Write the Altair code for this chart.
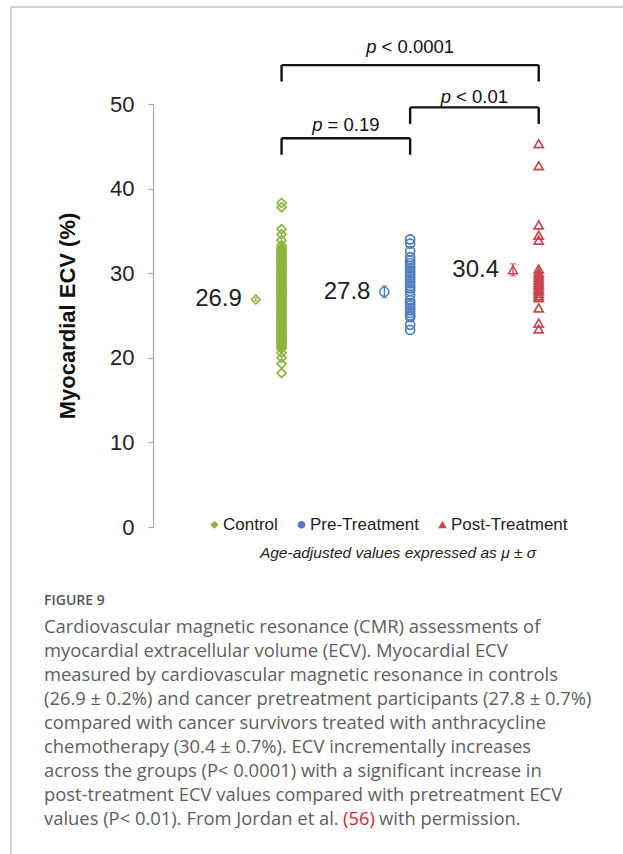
import altair as alt
import pandas as pd

# ---- groups and measured ECV values (%) ----
groups = ["Control", "Pre-Treatment", "Post-Treatment"]
group_pos = [1, 2, 3]
group_colors = ["#8db43e", "#4d7cc0", "#c8464c"]
group_shapes = ["diamond", "circle", "triangle-up"]

control_ecv = [
    38.3, 37.8, 35.2, 34.6, 33.9, 33.3, 33.0, 32.8, 32.7, 32.5,
    32.4, 32.2, 32.1, 31.9, 31.8, 31.6, 31.5, 31.4, 31.2, 31.1,
    30.9, 30.8, 30.6, 30.5, 30.4, 30.2, 30.1, 29.9, 29.8, 29.7,
    29.5, 29.4, 29.2, 29.1, 29.0, 28.8, 28.7, 28.5, 28.4, 28.2,
    28.1, 28.0, 27.8, 27.7, 27.5, 27.4, 27.3, 27.1, 27.0, 26.8,
    26.7, 26.5, 26.4, 26.3, 26.1, 26.0, 25.8, 25.7, 25.5, 25.4,
    25.3, 25.1, 25.0, 24.8, 24.7, 24.5, 24.4, 24.3, 24.1, 24.0,
    23.8, 23.7, 23.5, 23.4, 23.3, 23.1, 23.0, 22.8, 22.7, 22.5,
    22.4, 22.2, 22.1, 22.0, 21.8, 21.7, 21.5, 21.4, 21.2, 21.1,
    20.6, 20.0, 19.3, 18.2,
]
pre_ecv = [
    34.0, 33.5, 32.6, 31.9, 31.5, 31.2, 30.9, 30.6, 30.3, 30.0,
    29.7, 29.4, 29.1, 28.8, 28.5, 28.2, 27.9, 27.4, 26.8, 26.5,
    26.2, 25.9, 25.6, 25.3, 25.0, 24.8, 23.9, 23.3,
]
post_ecv = [
    45.3, 42.7, 35.7, 34.5, 33.9, 30.5, 30.1, 29.8, 29.5, 29.2,
    28.9, 28.7, 28.4, 28.1, 27.9, 27.6, 27.3, 27.1, 25.9, 24.1,
    23.4,
]

# age-adjusted mean and sd per group
group_means = [26.9, 27.8, 30.4]
group_sd = [0.2, 0.7, 0.7]
mean_labels = ["26.9", "27.8", "30.4"]

# significance brackets (levels in ECV units)
bracket_from = [1, 2, 1]
bracket_to = [3, 3, 2]
bracket_level = [54.6, 49.6, 45.95]
bracket_label_level = [56.05, 50.15, 46.75]
bracket_relation = ["< 0.0001", "< 0.01", "= 0.19"]

y_ticks = [0, 10, 20, 30, 40, 50]

caption_head = "FIGURE 9"
caption_lines = [
    "Cardiovascular magnetic resonance (CMR) assessments of",
    "myocardial extracellular volume (ECV). Myocardial ECV",
    "measured by cardiovascular magnetic resonance in controls",
    "(26.9 \u00b1 0.2%) and cancer pretreatment participants (27.8 \u00b1 0.7%)",
    "compared with cancer survivors treated with anthracycline",
    "chemotherapy (30.4 \u00b1 0.7%). ECV incrementally increases",
    "across the groups (P< 0.0001) with a significant increase in",
    "post-treatment ECV values compared with pretreatment ECV",
]
caption_last = ["values (P< 0.01). From Jordan et al.", "(56)", "with permission."]
note_text = "Age-adjusted values expressed as \u03bc \u00b1 \u03c3"

# ---- layout ----
W, H = 450, 423
X_DOMAIN = [0, 3.5]
PX_PER_X = W / (X_DOMAIN[1] - X_DOMAIN[0])
MEAN_SHIFT = 0.2
LEFT, TOP = 153, 104
SANS = "Liberation Sans"
CAP_FONT = "Open Sans"
CAP_SIZE = 18.4
CAP_COLOR = "#5e5e5e"
LINE_H = 24

xs = alt.Scale(domain=X_DOMAIN, nice=False, zero=False)
ys = alt.Scale(domain=[0, 50], nice=False, zero=False)
color_scale = alt.Scale(domain=groups, range=group_colors)
shape_scale = alt.Scale(domain=groups, range=group_shapes)

rows = []
for g, p, vals in zip(groups, group_pos, [control_ecv, pre_ecv, post_ecv]):
    for v in vals:
        rows.append({"group": g, "pos": p, "ecv": v})
points = pd.DataFrame(rows)

means = pd.DataFrame({
    "group": groups,
    "mx": [p - MEAN_SHIFT for p in group_pos],
    "mean": group_means,
    "lo": [m - s for m, s in zip(group_means, group_sd)],
    "hi": [m + s for m, s in zip(group_means, group_sd)],
    "label": mean_labels,
})

legend = alt.Legend(
    title=None, orient="none", direction="horizontal", legendX=53, legendY=412,
    labelFont=SANS, labelFontSize=17, labelColor="#222222", labelOffset=0,
    symbolSize=40, symbolStrokeWidth=1.3, symbolFillColor="white",
    columnPadding=15, padding=0,
)

y_axis = alt.Axis(
    values=y_ticks, title="Myocardial ECV (%)", grid=False,
    labelFont=SANS, labelFontSize=22, labelColor="#222222", labelPadding=14,
    tickSize=5, tickColor="#a8a8a8", domainColor="#a8a8a8", domainWidth=1.2,
    tickWidth=1.2, titleFont=SANS, titleFontSize=22, titleFontWeight="bold",
    titleColor="#111111", titlePadding=30,
)

pts = alt.Chart(points).mark_point(filled=False, size=82, strokeWidth=1.7, opacity=1).encode(
    x=alt.X("pos:Q", scale=xs, axis=None),
    y=alt.Y("ecv:Q", scale=ys, axis=y_axis),
    color=alt.Color("group:N", scale=color_scale, legend=legend),
    shape=alt.Shape("group:N", scale=shape_scale, legend=legend),
)

mean_pts = alt.Chart(means).mark_point(filled=False, size=82, strokeWidth=1.5, opacity=1).encode(
    x=alt.X("mx:Q", scale=xs, axis=None),
    y=alt.Y("mean:Q", scale=ys),
    color=alt.Color("group:N", scale=color_scale, legend=None),
    shape=alt.Shape("group:N", scale=shape_scale, legend=None),
)
mean_bar = alt.Chart(means).mark_rule(strokeWidth=1.3).encode(
    x=alt.X("mx:Q", scale=xs, axis=None),
    y=alt.Y("lo:Q", scale=ys),
    y2="hi:Q",
    color=alt.Color("group:N", scale=color_scale, legend=None),
)
mean_caps = alt.Chart(means).transform_fold(["lo", "hi"], as_=["end", "yv"]).mark_tick(
    orient="horizontal", size=6, thickness=1.3).encode(
    x=alt.X("mx:Q", scale=xs, axis=None),
    y=alt.Y("yv:Q", scale=ys),
    color=alt.Color("group:N", scale=color_scale, legend=None),
)
mean_text = alt.Chart(means).mark_text(
    align="right", baseline="middle", dx=-14, font=SANS, fontSize=24, color="#222222"
).encode(
    x=alt.X("mx:Q", scale=xs, axis=None),
    y=alt.Y("mean:Q", scale=ys),
    text="label:N",
)

# ---- brackets ----
br = pd.DataFrame({"x1": bracket_from, "x2": bracket_to, "lvl": bracket_level})
br["bottom"] = br["lvl"] - 1.95
bracket_h = alt.Chart(br).mark_rule(strokeWidth=2.4, color="#111111").encode(
    x=alt.X("x1:Q", scale=xs, axis=None), x2="x2:Q",
    y=alt.Y("lvl:Q", scale=ys),
)
ends = pd.concat([
    br[["x1", "lvl", "bottom"]].rename(columns={"x1": "xe"}),
    br[["x2", "lvl", "bottom"]].rename(columns={"x2": "xe"}),
])
bracket_v = alt.Chart(ends).mark_rule(strokeWidth=2.4, color="#111111").encode(
    x=alt.X("xe:Q", scale=xs, axis=None),
    y=alt.Y("lvl:Q", scale=ys), y2="bottom:Q",
)

# italic "p" followed by the upright relation, centred over each bracket
ADV = {" ": 278, "<": 584, "=": 584, ".": 278, "p": 556}
P_SIZE = 18.5
GAP = 5


def text_w(s):
    return sum(ADV.get(c, 556) for c in s) * P_SIZE / 1000


anchors = []
for a, b, rel in zip(bracket_from, bracket_to, bracket_relation):
    total = text_w("p") + GAP + text_w(rel)
    anchors.append((a + b) / 2 + (text_w("p") - total / 2) / PX_PER_X)
plab = pd.DataFrame({"ax": anchors, "ly": bracket_label_level, "rel": bracket_relation,
                     "p": ["p"] * len(anchors)})
p_italic = alt.Chart(plab).mark_text(
    align="right", baseline="alphabetic", font=SANS, fontSize=P_SIZE, fontStyle="italic",
    color="#111111").encode(
    x=alt.X("ax:Q", scale=xs, axis=None), y=alt.Y("ly:Q", scale=ys), text="p:N")
p_rest = alt.Chart(plab).mark_text(
    align="left", baseline="alphabetic", dx=GAP, font=SANS, fontSize=P_SIZE,
    color="#111111").encode(
    x=alt.X("ax:Q", scale=xs, axis=None), y=alt.Y("ly:Q", scale=ys), text="rel:N")

# ---- note under the legend ----
one = pd.DataFrame({"k": [0]})
note = alt.Chart(one).mark_text(
    align="center", baseline="middle", font=SANS, fontSize=15.5, fontStyle="italic",
    color="#222222", text=note_text).encode(x=alt.value(398 - LEFT), y=alt.value(553 - TOP))

# ---- card frame ----
frame_top = alt.Chart(one).mark_rule(color="#c4c4c4", strokeWidth=1.5).encode(
    x=alt.value(11 - LEFT), x2=alt.value(W + 40), y=alt.value(7 - TOP))
frame_left = alt.Chart(one).mark_rule(color="#c4c4c4", strokeWidth=1.5).encode(
    x=alt.value(11 - LEFT), y=alt.value(7 - TOP), y2=alt.value(860 - TOP))


# ---- caption ----
CAP_X = 44 - LEFT


def caption_text(text, x, y, color=CAP_COLOR, size=CAP_SIZE, weight="normal"):
    return alt.Chart(one).mark_text(
        align="left", baseline="middle", font=CAP_FONT, fontSize=size, fontWeight=weight,
        color=color, text=text).encode(x=alt.value(x), y=alt.value(y))


caption_layers = [caption_text(caption_head, CAP_X, 601 - TOP, color="#555555", size=14,
                               weight=600)]
for i, line in enumerate(caption_lines):
    caption_layers.append(caption_text(line, CAP_X, 627 - TOP + LINE_H * i))
last_y = 627 - TOP + LINE_H * len(caption_lines)
caption_layers += [
    caption_text(caption_last[0], CAP_X, last_y),
    caption_text(caption_last[1], 343 - LEFT, last_y, color="#d9262c"),
    caption_text(caption_last[2], 379 - LEFT, last_y),
]

chart = alt.layer(
    pts, mean_bar, mean_caps, mean_pts, mean_text,
    bracket_h, bracket_v, p_italic, p_rest,
    frame_top, frame_left, note, *caption_layers,
).properties(
    width=W, height=H, autosize="none",
    padding={"left": LEFT, "top": TOP, "right": 623 - LEFT - W, "bottom": 854 - TOP - H},
    background="white",
).configure_view(stroke=None)

chart.save("out.html", embed_options={"renderer": "svg", "actions": False})
